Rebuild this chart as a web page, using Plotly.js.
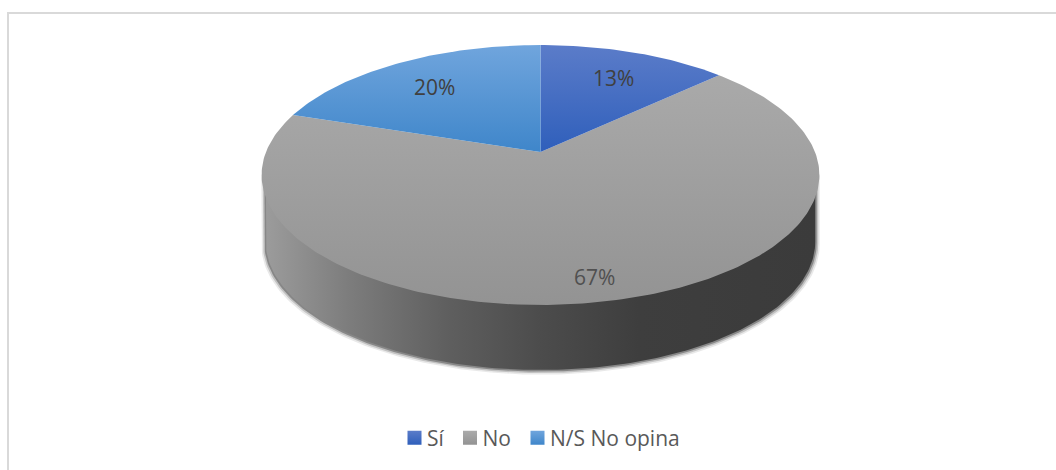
<!DOCTYPE html>
<html><head><meta charset="utf-8">
<script src="https://cdn.plot.ly/plotly-3.0.1.min.js"></script>
<style>html,body{margin:0;padding:0;background:#fff}#c{width:1056px;height:470px}</style>
</head><body><div id="c"></div><script>
const categories = ['Sí', 'No', 'N/S No opina'];
const values = [13, 67, 20];
const labelText = values.map(v => v + '%');

// perspective model of the tilted disc (screen px)
const CX = 540.5, CY = 152, A = 274.5, B = 125.9, K = 0.177;
const DEPTH = 67.3, BOTTOM_SCALE = 0.985;
const total = values.reduce((a, b) => a + b, 0);
function rim(deg, s, dy) {
  const t = deg * Math.PI / 180, u = Math.sin(t), v = Math.cos(t), w = 1 + K * v;
  return [CX + s * A * u / w, CY + dy - s * B * v / w];
}
function wedge(from, to) {
  const xs = [CX], ys = [CY];
  for (let d = from; ; d += 1) {
    const e = Math.min(d, to), p = rim(e, 1, 0);
    xs.push(p[0]); ys.push(p[1]);
    if (e >= to) break;
  }
  xs.push(CX); ys.push(CY);
  return {x: xs, y: ys};
}
function wall(grow, dy) {
  const xs = [], ys = [];
  const s = BOTTOM_SCALE + grow;
  const a = rim(260, s, 0), b = rim(100, s, 0);
  xs.push(a[0]); ys.push(a[1]);
  for (let d = 260; d >= 100; d -= 1) {
    const p = rim(d, s, DEPTH + dy);
    xs.push(p[0]); ys.push(p[1]);
  }
  xs.push(b[0]); ys.push(b[1]);
  xs.push(xs[0]); ys.push(ys[0]);
  return {x: xs, y: ys};
}
const greyScale = [[0, '#ababab'], [1, '#939393']];
const sliceFill = [
  {type: 'vertical', start: 45, stop: 152, colorscale: [[0, '#5b7cc9'], [1, '#2f5fbb']]},
  {type: 'vertical', start: 60, stop: 305, colorscale: greyScale},
  {type: 'vertical', start: 45, stop: 152, colorscale: [[0, '#70a5dd'], [1, '#3f86ca']]}
];
const legendTop = ['#5b7cc9', '#ababab', '#70a5dd'];
const legendBottom = ['#2f5fbb', '#939393', '#3f86ca'];

const traces = [];
[[4.5, 2.2, 0.10], [3.0, 1.5, 0.20], [1.5, 0.8, 0.38]].forEach(h => {
  const w = wall(h[0] / 279, h[1]);
  traces.push({x: w.x, y: w.y, mode: 'lines', fill: 'toself', line: {width: 0},
    fillcolor: 'rgba(40,40,40,' + h[2] + ')', showlegend: false, hoverinfo: 'skip'});
});
const wl = wall(0, 0);
traces.push({x: wl.x, y: wl.y, mode: 'lines', fill: 'toself', line: {width: 0}, showlegend: false, hoverinfo: 'skip',
  fillgradient: {type: 'horizontal', start: 265, stop: 815, colorscale: [
    [0, '#9c9c9c'], [0.15, '#7d7d7d'], [0.33, '#5f5f5f'], [0.5, '#4c4c4c'], [0.68, '#3e3e3e'], [1, '#3b3b3b']]}});

let acc = 0;
const wedges = values.map(v => {
  const from = acc / total * 360; acc += v;
  return wedge(from, acc / total * 360);
});
[1, 0, 2].forEach(i => {
  traces.push({x: wedges[i].x, y: wedges[i].y, mode: 'lines', fill: 'toself', line: {width: 0},
    fillgradient: sliceFill[i], name: categories[i], showlegend: false, hoverinfo: 'name'});
});
categories.forEach((c, i) => {
  traces.push({x: [null], y: [null], mode: 'markers', name: c,
    marker: {symbol: 'square', size: 14, color: legendTop[i],
      gradient: {type: 'vertical', color: legendBottom[i]}}});
});

const labelPos = [[613, 78], [594, 277], [434, 87]];
const layout = {
  width: 1056, height: 470, margin: {l: 0, r: 0, t: 0, b: 0},
  paper_bgcolor: '#fff', plot_bgcolor: '#fff', showlegend: true,
  font: {family: '"Open Sans", sans-serif', color: '#595959'},
  xaxis: {range: [0, 1056], visible: false, fixedrange: true},
  yaxis: {range: [470, 0], visible: false, fixedrange: true},
  legend: {orientation: 'h', x: 0.514, xanchor: 'center', y: 0.068, yanchor: 'middle',
    font: {size: 21, color: '#595959'}, bgcolor: 'rgba(0,0,0,0)', itemclick: false, itemdoubleclick: false},
  shapes: [
    {type: 'line', xref: 'x', yref: 'y', x0: 7, x1: 1056, y0: 13, y1: 13, line: {color: '#d9d9d9', width: 2}},
    {type: 'line', xref: 'x', yref: 'y', x0: 8, x1: 8, y0: 12, y1: 470, line: {color: '#d9d9d9', width: 2}}
  ],
  annotations: values.map((v, i) => ({
    x: labelPos[i][0], y: labelPos[i][1], xref: 'x', yref: 'y', showarrow: false,
    text: labelText[i], font: {size: 21, color: i === 1 ? '#505050' : '#404040'}
  }))
};
const swatchCentres = [414.5, 470, 537.5];
Plotly.newPlot('c', traces, layout, {displayModeBar: false}).then(gd => {
  // tighten the legend spacing to the reference's compact swatch/text layout
  gd.querySelectorAll('.legend .traces').forEach((item, i) => {
    const pt = item.querySelector('.legendpoints path');
    const txt = item.querySelector('.legendtext');
    if (!pt || !txt) return;
    const m = /translate\(([-\d.]+)[ ,]+([-\d.]+)\)/.exec(item.getAttribute('transform') || '');
    if (!m) return;
    const r = pt.getBoundingClientRect();
    const dx = swatchCentres[i] - (r.left + r.right) / 2;
    item.setAttribute('transform', 'translate(' + (parseFloat(m[1]) + dx) + ',' + m[2] + ')');
    txt.setAttribute('transform', 'translate(-7.5,0)');
  });
});
</script></body></html>
